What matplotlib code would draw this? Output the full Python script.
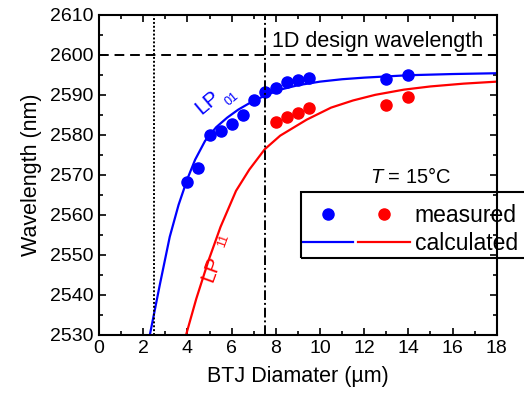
import matplotlib
matplotlib.use('Agg')
import matplotlib.pyplot as plt
from matplotlib.legend_handler import HandlerTuple
from matplotlib.patches import Rectangle
from matplotlib.ticker import MultipleLocator

plt.rcParams['font.family'] = ['Liberation Sans', 'DejaVu Sans']
plt.rcParams['mathtext.fontset'] = 'custom'
plt.rcParams['mathtext.rm'] = 'Liberation Sans'
plt.rcParams['mathtext.it'] = 'Liberation Sans:italic'

# measured points
lp01_x = [4.0, 4.5, 5.0, 5.5, 6.0, 6.5, 7.0, 7.5, 8.0, 8.5, 9.0, 9.5, 13.0, 14.0]
lp01_y = [2568.3, 2571.7, 2580.0, 2581.0, 2582.8, 2585.0, 2588.6, 2590.7,
          2591.8, 2593.1, 2593.8, 2594.1, 2594.0, 2595.0]
lp11_x = [8.0, 8.5, 9.0, 9.5, 13.0, 14.0]
lp11_y = [2583.2, 2584.5, 2585.4, 2586.8, 2587.5, 2589.4]

# calculated curves
calc01_x = [2.3, 2.75, 3.2, 3.6, 4.0, 4.35, 4.8, 5.3, 5.8, 6.3, 6.8, 7.5, 8.2,
            9.0, 10.0, 11.0, 12.0, 13.0, 14.0, 16.0, 18.0]
calc01_y = [2530, 2542.5, 2554.5, 2562.5, 2569.0, 2573.8, 2578.5, 2581.9, 2584.3,
            2586.3, 2587.9, 2589.8, 2591.3, 2592.4, 2593.3, 2593.9, 2594.3,
            2594.6, 2594.9, 2595.2, 2595.4]
calc11_x = [3.94, 4.4, 4.95, 5.5, 6.2, 6.8, 7.5, 8.2, 9.4, 10.5, 11.5, 12.5,
            13.8, 15.0, 16.5, 18.0]
calc11_y = [2530, 2539.0, 2548.5, 2557.0, 2566.0, 2571.3, 2576.4, 2579.8, 2583.8,
            2586.8, 2588.6, 2590.0, 2591.3, 2592.1, 2592.8, 2593.3]

design_wl = 2600
cutoff_d = 2.5
single_mode_d = 7.5

W, H = 524, 401
fig = plt.figure(figsize=(W / 100, H / 100), dpi=100)
ax = fig.add_axes([0.189, 0.165, 0.759, 0.798])

l01, = ax.plot(calc01_x, calc01_y, color='blue', lw=1.6)
l11, = ax.plot(calc11_x, calc11_y, color='red', lw=1.6)
d01, = ax.plot(lp01_x, lp01_y, 'o', color='blue', ms=8, ls='None')
d11, = ax.plot(lp11_x, lp11_y, 'o', color='red', ms=8, ls='None')

ax.axhline(design_wl, color='black', ls=(0, (5, 3)), lw=1.4)
ax.axvline(cutoff_d, color='black', ls=(0, (1, 1)), lw=1.4)
ax.axvline(single_mode_d, color='black', ls=(0, (5, 1.5, 1, 1.5)), lw=1.4)

ax.text(7.85, 2603.3, '1D design wavelength', fontsize=15.5, va='center', ha='left')
ax.text(14.1, 2569.5, '$T$ = 15°C', fontsize=14.5, va='center', ha='center')
ax.text(4.9, 2588.0, 'LP', fontsize=15, color='blue', rotation=40,
        ha='center', va='center')
ax.text(6.0, 2589.0, '01', fontsize=9, color='blue', rotation=40,
        ha='center', va='center')
ax.text(5.1, 2546.5, 'LP', fontsize=15, color='red', rotation=70,
        ha='center', va='center')
ax.text(5.65, 2553.5, '11', fontsize=9, color='red', rotation=70,
        ha='center', va='center')

ax.set_xlim(0, 18)
ax.set_ylim(2530, 2610)
ax.xaxis.set_major_locator(MultipleLocator(2))
ax.xaxis.set_minor_locator(MultipleLocator(1))
ax.yaxis.set_major_locator(MultipleLocator(10))
ax.yaxis.set_minor_locator(MultipleLocator(5))
ax.tick_params(which='both', direction='in', top=True, right=True, width=1.2,
               labelsize=14)
ax.tick_params(which='major', length=5, pad=4)
ax.tick_params(which='minor', length=3)
for s in ax.spines.values():
    s.set_linewidth(1.5)
ax.set_xlabel('BTJ Diamater (µm)', fontsize=15.5, labelpad=6)
ax.set_ylabel('Wavelength (nm)', fontsize=15.5, labelpad=6)

# legend box runs off the right edge of the figure, as in the original
fig.patches.append(Rectangle((301 / W, 1 - 258 / H), 240 / W, 66 / H,
                             transform=fig.transFigure, fill=False,
                             edgecolor='black', lw=1.5, clip_on=False))
leg = ax.legend([(d01, d11), (l01, l11)], ['measured', 'calculated'],
                handler_map={tuple: HandlerTuple(ndivide=None, pad=0.22)},
                handlelength=4.7, handletextpad=0.22, borderpad=0,
                borderaxespad=0, labelspacing=0.24, fontsize=16.5,
                frameon=False, loc='upper left',
                bbox_to_anchor=(302 / W, 1 - 204 / H),
                bbox_transform=fig.transFigure)
leg.set_clip_on(False)

fig.savefig('out.png', dpi=100)
